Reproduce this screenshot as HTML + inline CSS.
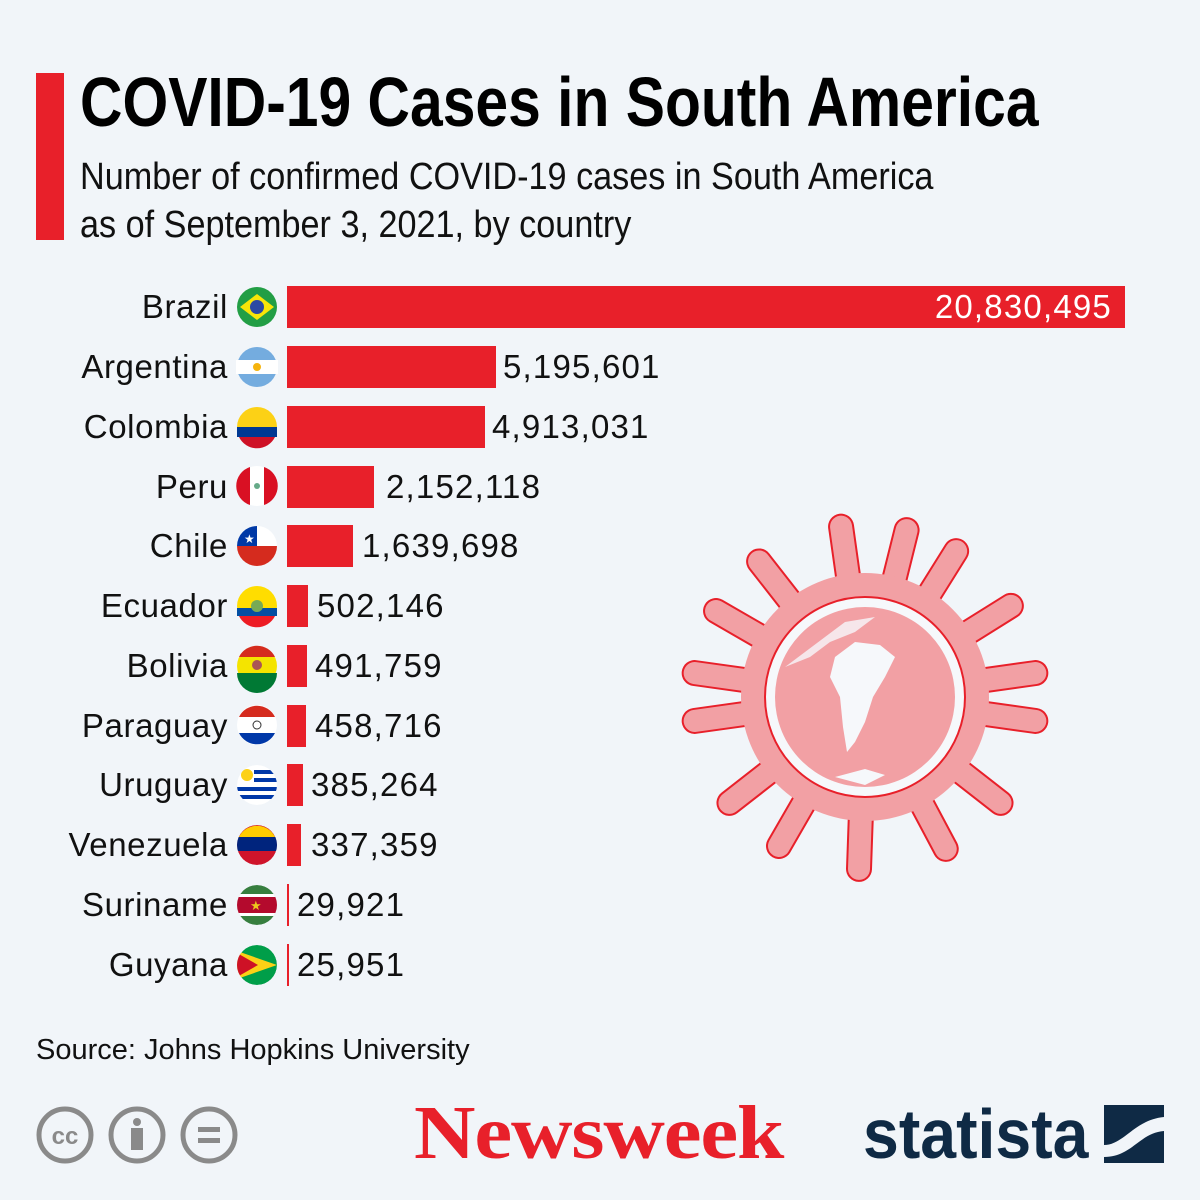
<!DOCTYPE html>
<html><head><meta charset="utf-8"><style>
body{margin:0;width:1200px;height:1200px;background:#f1f5f9;font-family:"Liberation Sans",sans-serif;position:relative;overflow:hidden}
.a{position:absolute;white-space:nowrap}
.t{left:80px;top:62px;font-weight:bold;font-size:70px;color:#000;transform-origin:0 0;transform:scaleX(0.84)}
.s{left:80px;font-size:38px;color:#111;transform-origin:0 0;transform:scaleX(0.9)}
.l{right:972px;font-size:33px;letter-spacing:0.6px;color:#111;line-height:42px}
.v{font-size:33px;letter-spacing:1.2px;color:#111;line-height:42px}
.b{position:absolute;left:287px;height:42px;background:#e8202a}
</style></head><body>
<div class="a" style="left:36px;top:73px;width:28px;height:167px;background:#e8202a"></div>
<div class="a t">COVID-19 Cases in South America</div>
<div class="a s" style="top:156px">Number of confirmed COVID-19 cases in South America</div>
<div class="a s" style="top:204px">as of September 3, 2021, by country</div>

<svg class="a" style="left:0;top:0" width="1200" height="1200">
<g transform="translate(865,697)">
<g stroke="#e8202a" stroke-width="26" stroke-linecap="round" fill="none">
<line x1="0" y1="0" x2="0" y2="-172" transform="rotate(-8)"/>
<line x1="0" y1="0" x2="0" y2="-172" transform="rotate(14)"/>
<line x1="0" y1="0" x2="0" y2="-172" transform="rotate(32)"/>
<line x1="0" y1="0" x2="0" y2="-172" transform="rotate(-38)"/>
<line x1="0" y1="0" x2="0" y2="-172" transform="rotate(-60)"/>
<line x1="0" y1="0" x2="0" y2="-172" transform="rotate(-82)"/>
<line x1="0" y1="0" x2="0" y2="-172" transform="rotate(-98)"/>
<line x1="0" y1="0" x2="0" y2="-172" transform="rotate(-128)"/>
<line x1="0" y1="0" x2="0" y2="-172" transform="rotate(-150)"/>
<line x1="0" y1="0" x2="0" y2="-172" transform="rotate(-178)"/>
<line x1="0" y1="0" x2="0" y2="-172" transform="rotate(152)"/>
<line x1="0" y1="0" x2="0" y2="-172" transform="rotate(128)"/>
<line x1="0" y1="0" x2="0" y2="-172" transform="rotate(98)"/>
<line x1="0" y1="0" x2="0" y2="-172" transform="rotate(82)"/>
<line x1="0" y1="0" x2="0" y2="-172" transform="rotate(58)"/>
</g>
<g stroke="#f2a0a4" stroke-width="22" stroke-linecap="round" fill="none">
<line x1="0" y1="0" x2="0" y2="-172" transform="rotate(-8)"/>
<line x1="0" y1="0" x2="0" y2="-172" transform="rotate(14)"/>
<line x1="0" y1="0" x2="0" y2="-172" transform="rotate(32)"/>
<line x1="0" y1="0" x2="0" y2="-172" transform="rotate(-38)"/>
<line x1="0" y1="0" x2="0" y2="-172" transform="rotate(-60)"/>
<line x1="0" y1="0" x2="0" y2="-172" transform="rotate(-82)"/>
<line x1="0" y1="0" x2="0" y2="-172" transform="rotate(-98)"/>
<line x1="0" y1="0" x2="0" y2="-172" transform="rotate(-128)"/>
<line x1="0" y1="0" x2="0" y2="-172" transform="rotate(-150)"/>
<line x1="0" y1="0" x2="0" y2="-172" transform="rotate(-178)"/>
<line x1="0" y1="0" x2="0" y2="-172" transform="rotate(152)"/>
<line x1="0" y1="0" x2="0" y2="-172" transform="rotate(128)"/>
<line x1="0" y1="0" x2="0" y2="-172" transform="rotate(98)"/>
<line x1="0" y1="0" x2="0" y2="-172" transform="rotate(82)"/>
<line x1="0" y1="0" x2="0" y2="-172" transform="rotate(58)"/>
</g>
<circle r="124" fill="#f2a0a4"/>
<circle r="100" fill="#f6f8fb" stroke="#e8202a" stroke-width="2"/>
<circle r="90" fill="#f2a0a4"/>
<path d="M-10,-55 L15,-52 L30,-40 L20,-20 L8,0 L0,25 L-10,45 L-18,55 L-22,30 L-25,0 L-35,-20 L-30,-40 Z" fill="#f6f8fb"/>
<path d="M-80,-30 L-60,-45 L-40,-60 L-20,-75 L10,-80 L-10,-65 L-35,-55 L-55,-40 Z" fill="#f6f8fb" opacity=".8"/>
<path d="M-30,80 L0,72 L20,78 L0,88 Z" fill="#f6f8fb"/>
</g>
</svg>

<div class="b" style="top:286px;width:838px"></div>
<div class="a v" style="right:88px;top:286px;color:#fff">20,830,495</div>
<div class="b" style="top:346px;width:209px"></div><div class="a v" style="left:503px;top:346px">5,195,601</div>
<div class="b" style="top:406px;width:198px"></div><div class="a v" style="left:492px;top:406px">4,913,031</div>
<div class="b" style="top:466px;width:87px"></div><div class="a v" style="left:386px;top:466px">2,152,118</div>
<div class="b" style="top:525px;width:66px"></div><div class="a v" style="left:362px;top:525px">1,639,698</div>
<div class="b" style="top:585px;width:21px"></div><div class="a v" style="left:317px;top:585px">502,146</div>
<div class="b" style="top:645px;width:20px"></div><div class="a v" style="left:315px;top:645px">491,759</div>
<div class="b" style="top:705px;width:19px"></div><div class="a v" style="left:315px;top:705px">458,716</div>
<div class="b" style="top:764px;width:16px"></div><div class="a v" style="left:311px;top:764px">385,264</div>
<div class="b" style="top:824px;width:14px"></div><div class="a v" style="left:311px;top:824px">337,359</div>
<div class="b" style="top:884px;width:2px"></div><div class="a v" style="left:297px;top:884px">29,921</div>
<div class="b" style="top:944px;width:2px"></div><div class="a v" style="left:297px;top:944px">25,951</div>

<div class="a l" style="top:286px">Brazil</div>
<div class="a l" style="top:346px">Argentina</div>
<div class="a l" style="top:406px">Colombia</div>
<div class="a l" style="top:466px">Peru</div>
<div class="a l" style="top:525px">Chile</div>
<div class="a l" style="top:585px">Ecuador</div>
<div class="a l" style="top:645px">Bolivia</div>
<div class="a l" style="top:705px">Paraguay</div>
<div class="a l" style="top:764px">Uruguay</div>
<div class="a l" style="top:824px">Venezuela</div>
<div class="a l" style="top:884px">Suriname</div>
<div class="a l" style="top:944px">Guyana</div>

<svg class="a" style="left:236px;top:286px" width="44" height="700">
<defs><clipPath id="c"><circle cx="21" cy="21" r="20"/></clipPath></defs>
<g><circle cx="21" cy="21" r="20" fill="#229e45"/><path d="M4,21 L21,8 L38,21 L21,34Z" fill="#f8e509"/><circle cx="21" cy="21" r="7" fill="#2b49a3"/></g>
<g transform="translate(0,60)" ><circle cx="21" cy="21" r="20" fill="#74acdf"/><rect x="0" y="14" width="42" height="14" fill="#fff"/><circle cx="21" cy="21" r="4" fill="#f6b40e"/></g>
<g transform="translate(0,120)"><circle cx="21" cy="21" r="20" fill="#fcd116"/><path d="M1,21 H41 V31 H1Z" fill="#003893"/><path d="M3,31 H39 A20,20 0 0 1 3,31Z" fill="#ce1126"/></g>
<g transform="translate(0,179)"><circle cx="21" cy="21" r="20" fill="#fff"/><path d="M14,2 A20,20 0 0 0 14,40Z" fill="#d91023"/><path d="M28,2 A20,20 0 0 1 28,40Z" fill="#d91023"/><circle cx="21" cy="21" r="3" fill="#6a8"/></g>
<g transform="translate(0,239)"><circle cx="21" cy="21" r="20" fill="#fff"/><path d="M1,21 H41 A20,20 0 0 1 1,21Z" fill="#d52b1e"/><path d="M21,1 A20,20 0 0 0 1,21 H21Z" fill="#0039a6"/><text x="8" y="18" font-size="12" fill="#fff">★</text></g>
<g transform="translate(0,299)"><circle cx="21" cy="21" r="20" fill="#ffdd00"/><path d="M1,23 H41 V31 H1Z" fill="#034ea2"/><path d="M3,31 H39 A20,20 0 0 1 3,31Z" fill="#ed1c24"/><circle cx="21" cy="21" r="6" fill="#7a5"/></g>
<g transform="translate(0,359)"><circle cx="21" cy="21" r="20" fill="#f4e400"/><path d="M3,12 H39 A20,20 0 0 0 3,12Z" fill="#d52b1e"/><path d="M1,28 H41 A20,20 0 0 1 1,28Z" fill="#007934"/><circle cx="21" cy="20" r="5" fill="#a55"/></g>
<g transform="translate(0,418)"><circle cx="21" cy="21" r="20" fill="#fff"/><path d="M3,13 H39 A20,20 0 0 0 3,13Z" fill="#d52b1e"/><path d="M3,29 H39 A20,20 0 0 1 3,29Z" fill="#0038a8"/><circle cx="21" cy="21" r="4" fill="none" stroke="#333"/></g>
<g transform="translate(0,478)" clip-path="url(#c)"><circle cx="21" cy="21" r="20" fill="#fff"/><g fill="#0038a8"><rect x="18" y="6" width="24" height="4"/><rect x="18" y="14" width="24" height="4"/><rect x="0" y="23" width="42" height="4"/><rect x="0" y="31" width="42" height="4"/></g><circle cx="11" cy="11" r="6" fill="#fcd116"/></g>
<g transform="translate(0,538)" clip-path="url(#c)"><circle cx="21" cy="21" r="20" fill="#cf142b"/><path d="M3,13 H39 A20,20 0 0 0 3,13Z" fill="#ffcc00"/><rect x="0" y="13" width="42" height="14" fill="#00247d"/></g>
<g transform="translate(0,598)" clip-path="url(#c)"><circle cx="21" cy="21" r="20" fill="#377e3f"/><rect x="0" y="10" width="42" height="22" fill="#fff"/><rect x="0" y="13" width="42" height="16" fill="#b40a2d"/><text x="14" y="26" font-size="13" fill="#ecc81d">★</text></g>
<g transform="translate(0,658)" clip-path="url(#c)"><circle cx="21" cy="21" r="20" fill="#009e49"/><path d="M1,7 L41,21 L1,35Z" fill="#fcd116"/><path d="M1,9 L22,21 L1,33Z" fill="#ce1126"/></g>
</svg>

<div class="a" style="left:36px;top:1034px;font-size:29px;color:#111">Source: Johns Hopkins University</div>
<svg class="a" style="left:30px;top:1100px" width="220" height="70">
<g fill="none" stroke="#8a8a8a" stroke-width="5">
<circle cx="35" cy="35" r="26"/><circle cx="107" cy="35" r="26"/><circle cx="179" cy="35" r="26"/>
</g>
<text x="35" y="44" font-size="24" font-weight="bold" fill="#8a8a8a" text-anchor="middle">cc</text>
<circle cx="107" cy="22" r="4" fill="#8a8a8a"/><rect x="101" y="28" width="12" height="22" fill="#8a8a8a"/>
<rect x="168" y="27" width="22" height="5" fill="#8a8a8a"/><rect x="168" y="38" width="22" height="5" fill="#8a8a8a"/>
</svg>
<div class="a" style="left:414px;top:1090px;font-family:'Liberation Serif',serif;font-weight:bold;font-size:76px;color:#e8202a;letter-spacing:-1px;transform-origin:0 0;transform:scaleX(1.12)">Newsweek</div>
<div class="a" style="left:863px;top:1094px;font-weight:bold;font-size:70px;color:#0f2a45;transform-origin:0 0;transform:scaleX(0.92)">statista</div>
<svg class="a" style="left:1104px;top:1105px" width="62" height="60"><rect width="60" height="58" fill="#0f2a45"/><path d="M0,40 C20,40 30,15 60,12 V26 C35,28 28,52 0,52Z" fill="#f1f5f9"/></svg>
</body></html>
